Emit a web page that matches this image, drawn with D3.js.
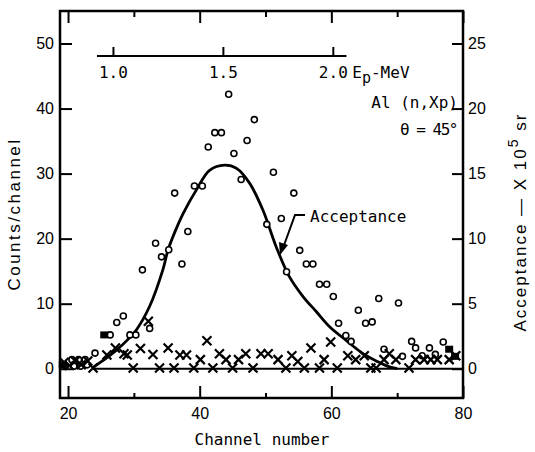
<!DOCTYPE html>
<html>
<head>
<meta charset="utf-8">
<script src="https://cdn.jsdelivr.net/npm/d3@7"></script>
<style>
  body { margin: 0; background: #fff; }
  .mono { font-family: "DejaVu Sans Mono", monospace; }
  .sans { font-family: "Liberation Sans", Arial, sans-serif; }
</style>
</head>
<body>
<div id="chart"></div>
<script>
// tick values
var channelTicks = [20, 40, 60, 80];
var channelMinor = [30, 50, 70];
var countTicks = [0, 10, 20, 30, 40, 50];
var acceptTicks = [0, 5, 10, 15, 20, 25];
var energyTicks = [1.0, 1.5, 2.0];
var energyLabels = ["1.0", "1.5", "2.0"];
// channel that matches Ep = 1.0 and 2.0 MeV
var energyChannels = [26.9, 60.3];

// open circles [channel, counts]
var circlePts = [
  [19.6, 0.5], [20.6, 1.4], [21.6, 1.4], [22.6, 1.4], [20.9, 0.4], [21.9, 0.4], [22.9, 0.6],
  [24.1, 2.4], [26.4, 5.2], [27.4, 7.1], [28.4, 8.1], [29.4, 5.2], [30.3, 5.2], [31.3, 15.2],
  [32.4, 6.2], [33.3, 19.3], [34.2, 17.2], [35.3, 18.3], [36.2, 27.0], [37.3, 16.1], [38.2, 21.1],
  [39.2, 28.1], [40.4, 28.1], [41.3, 34.1], [42.3, 36.3], [43.3, 36.3], [44.4, 42.2], [45.2, 33.1],
  [46.3, 29.1], [47.2, 35.1], [48.3, 38.3], [50.2, 22.2], [51.2, 30.2], [52.4, 23.1], [53.2, 14.9],
  [54.3, 27.0], [55.2, 18.2], [56.2, 16.1], [57.2, 16.1], [58.2, 13.0], [59.3, 13.0], [60.3, 11.1],
  [61.1, 7.0], [62.2, 5.1], [63.0, 4.2], [64.1, 9.0], [65.2, 7.0], [66.2, 7.2], [67.2, 10.8],
  [68.0, 3.0], [70.2, 10.1], [70.8, 1.9], [72.2, 4.2], [72.8, 3.2], [73.8, 2.0], [74.9, 3.2],
  [75.8, 2.2], [77.0, 4.1]
];
// blotted points [channel, counts]
var filledPts = [[25.5, 5.2], [77.9, 3.0], [78.8, 1.9], [19.2, 0.6]];
// crosses [channel, counts]
var crossPts = [
  [19.4, 1.0], [20.2, 0.5], [21.1, 1.2], [22.0, 0.6], [23.0, 1.2], [23.8, 0.1], [25.9, 2.1],
  [27.2, 3.2], [28.5, 2.3], [29.0, 2.1], [29.9, 0.1], [31.0, 3.1], [32.2, 7.3], [32.9, 2.2],
  [33.9, 0.1], [35.2, 3.2], [36.1, 0.1], [37.0, 2.1], [38.0, 2.1], [39.1, 0.1], [40.1, 1.4],
  [41.1, 4.3], [42.0, 0.1], [43.0, 2.3], [44.0, 1.4], [45.0, 0.1], [45.9, 1.4], [47.0, 2.3],
  [48.1, 0.1], [49.3, 2.3], [50.4, 2.3], [51.9, 1.4], [53.1, 0.1], [54.0, 2.0], [54.9, 1.1],
  [55.9, 0.1], [56.9, 3.2], [58.2, 0.1], [58.9, 1.4], [59.9, 4.1], [60.9, 0.1], [62.5, 2.0],
  [63.7, 1.4], [65.0, 2.0], [66.0, 0.1], [66.8, 0.1], [68.0, 1.4], [68.8, 2.3], [69.8, 1.4],
  [71.8, 0.1], [72.8, 1.4], [74.1, 1.4], [75.1, 1.4], [76.1, 1.4], [77.9, 1.4], [78.9, 2.0]
];
// acceptance curve [channel, acceptance x 10^5 sr]
var acceptCurve = [
  [23.8, 0.1], [25.5, 0.7], [27.4, 1.45], [29.0, 2.2], [30.4, 3.0], [32.4, 4.8], [34.4, 7.6],
  [35.2, 9.15], [36.3, 10.6], [37.5, 11.95], [39.5, 13.75], [41.5, 15.25], [43.8, 15.65],
  [45.6, 15.4], [47.6, 14.25], [49.6, 12.2], [51.6, 9.4], [53.6, 7.1], [55.7, 5.55],
  [57.7, 4.4], [59.7, 3.25], [62.2, 2.2], [64.7, 1.2], [67.0, 0.55], [68.5, 0.2], [70.0, 0.0]
];

var svgWidth = 535, svgHeight = 452;
var margin = { top: 11, right: 72, bottom: 54, left: 60 };
var width = svgWidth - margin.left - margin.right;
var height = svgHeight - margin.top - margin.bottom;

var svg = d3.select("#chart").append("svg")
  .attr("width", svgWidth)
  .attr("height", svgHeight);

var g = svg.append("g")
  .attr("transform", `translate(${margin.left},${margin.top})`);

var x = d3.scaleLinear().domain([18.78, 80]).range([0, width]);
var y = d3.scaleLinear().domain([-4.5, 55]).range([height, 0]);
var yR = d3.scaleLinear().domain([-2.25, 27.5]).range([height, 0]);

// axes, ticks pointing inwards
function styleAxis(sel, cls, size) {
  sel.select(".domain").remove();
  sel.selectAll("line").attr("stroke", "#000").attr("stroke-width", 2);
  sel.selectAll("text").attr("class", cls).attr("fill", "#000").attr("font-size", size);
}

g.append("g").attr("transform", `translate(0,${height})`)
  .call(d3.axisBottom(x).tickValues(channelTicks).tickSize(-12).tickPadding(10).tickFormat(d3.format("d")))
  .call(styleAxis, "sans", 16);
g.append("g").attr("transform", `translate(0,${height})`)
  .call(d3.axisBottom(x).tickValues(channelMinor).tickSize(-5).tickFormat(""))
  .call(styleAxis, "sans", 16);
g.append("g")
  .call(d3.axisTop(x).tickValues(channelTicks).tickSize(-12).tickFormat(""))
  .call(styleAxis, "sans", 16);
g.append("g")
  .call(d3.axisTop(x).tickValues(channelMinor).tickSize(-6).tickFormat(""))
  .call(styleAxis, "sans", 16);
g.append("g")
  .call(d3.axisLeft(y).tickValues(countTicks).tickSize(-12).tickPadding(6))
  .call(styleAxis, "sans", 16);
g.append("g").attr("transform", `translate(${width},0)`)
  .call(d3.axisRight(yR).tickValues(acceptTicks).tickSize(-11).tickPadding(5))
  .call(styleAxis, "sans", 16);

// frame
g.append("rect")
  .attr("width", width).attr("height", height)
  .attr("fill", "none").attr("stroke", "#000").attr("stroke-width", 2.5);

// energy axis inside the plot
var ex = d3.scaleLinear().domain([1, 2]).range(energyChannels.map(x));
var eg = g.append("g").attr("transform", "translate(0,45)");
eg.append("line")
  .attr("x1", ex(0.925)).attr("x2", ex(2.06))
  .attr("stroke", "#000").attr("stroke-width", 2);
eg.selectAll("line.tick").data(energyTicks).enter().append("line")
  .attr("class", "tick")
  .attr("x1", d => ex(d)).attr("x2", d => ex(d))
  .attr("y1", 0).attr("y2", -9)
  .attr("stroke", "#000").attr("stroke-width", 2);
eg.selectAll("text.elab").data(energyTicks).enter().append("text")
  .attr("class", "mono elab")
  .attr("x", d => ex(d)).attr("y", 22)
  .attr("text-anchor", "middle").attr("font-size", 16)
  .text((d, i) => energyLabels[i]);
var et = eg.append("text").attr("class", "mono").attr("font-size", 16)
  .attr("x", ex(2) + 19).attr("y", 22);
et.append("tspan").text("E");
et.append("tspan").attr("dy", 5).attr("font-size", 15).text("p");
et.append("tspan").attr("dy", -5).text("-MeV");

// baseline and acceptance curve
g.append("line")
  .attr("x1", x(23.8)).attr("x2", width)
  .attr("y1", yR(0)).attr("y2", yR(0))
  .attr("stroke", "#000").attr("stroke-width", 2);

var line = d3.line()
  .x(d => x(d[0]))
  .y(d => yR(d[1]))
  .curve(d3.curveCatmullRom);
g.append("path").datum(acceptCurve)
  .attr("d", line)
  .attr("fill", "none").attr("stroke", "#000").attr("stroke-width", 2.8);

// data points
g.selectAll("circle.open").data(circlePts).enter().append("circle")
  .attr("class", "open")
  .attr("cx", d => x(d[0])).attr("cy", d => y(d[1]))
  .attr("r", 3)
  .attr("fill", "#fff").attr("stroke", "#000").attr("stroke-width", 1.6);

g.selectAll("rect.filled").data(filledPts).enter().append("rect")
  .attr("class", "filled")
  .attr("x", d => x(d[0]) - 4).attr("y", d => y(d[1]) - 3.5)
  .attr("width", 8).attr("height", 7)
  .attr("fill", "#000");

var cross = g.selectAll("g.cross").data(crossPts).enter().append("g")
  .attr("class", "cross")
  .attr("transform", d => `translate(${x(d[0])},${y(d[1])})`);
cross.append("path")
  .attr("d", "M-4.5,-4.5L4.5,4.5M-4.5,4.5L4.5,-4.5")
  .attr("stroke", "#000").attr("stroke-width", 2.2).attr("fill", "none");

// annotations
g.append("text").attr("class", "mono").attr("font-size", 16)
  .attr("x", 398).attr("y", 97).attr("text-anchor", "end")
  .text("Al (n,Xp)");
g.append("text").attr("class", "mono").attr("font-size", 16)
  .attr("x", 397).attr("y", 124).attr("text-anchor", "end")
  .attr("letter-spacing", -1.5)
  .text("\u03b8 = 45\u00b0");
g.append("text").attr("class", "mono").attr("font-size", 16)
  .attr("x", 250).attr("y", 211)
  .text("Acceptance");
g.append("path")
  .attr("d", `M245,204L235,204L223,237`)
  .attr("fill", "none").attr("stroke", "#000").attr("stroke-width", 2);
g.append("path")
  .attr("d", "M220,244L219,231L228,234Z")
  .attr("fill", "#000");

// axis titles
svg.append("text").attr("class", "sans").attr("font-size", 17)
  .attr("letter-spacing", 2.5)
  .attr("transform", "translate(20,214) rotate(-90)")
  .attr("text-anchor", "middle")
  .text("Counts/channel");
svg.append("text").attr("class", "mono").attr("font-size", 16)
  .attr("x", 262).attr("y", 445).attr("text-anchor", "middle")
  .text("Channel number");
var rt = svg.append("text").attr("class", "sans").attr("font-size", 17)
  .attr("letter-spacing", 2)
  .attr("transform", "translate(526,222) rotate(-90)")
  .attr("text-anchor", "middle");
rt.append("tspan").text("Acceptance \u2014 X 10");
rt.append("tspan").attr("dy", -8).attr("font-size", 14).text("5");
rt.append("tspan").attr("dy", 8).text(" sr");
</script>
</body>
</html>
